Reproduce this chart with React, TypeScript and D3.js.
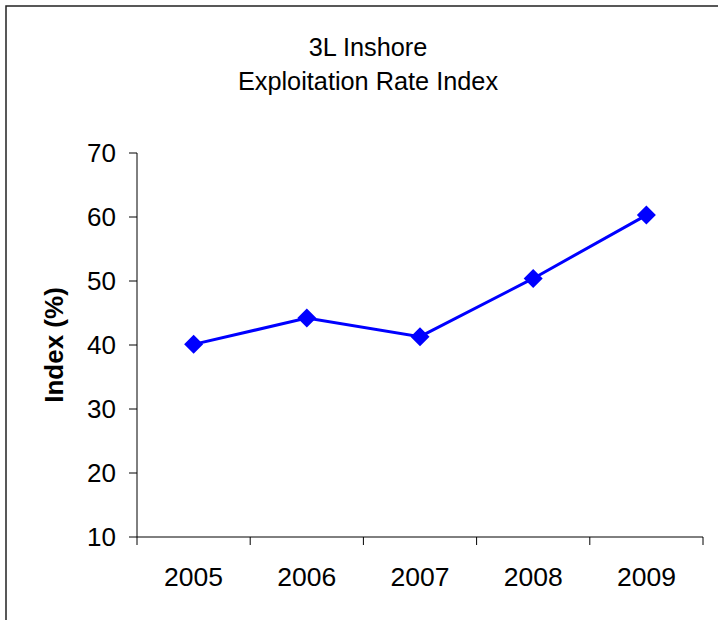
import React from "react";
import * as d3 from "d3";

const years = ["2005", "2006", "2007", "2008", "2009"];
const values = [40.1, 44.2, 41.3, 50.4, 60.3];
const yTicks = [10, 20, 30, 40, 50, 60, 70];
const titleLines = ["3L Inshore", "Exploitation Rate Index"];
const yTitle = "Index (%)";

export default function App() {
  const W = 718, H = 620;
  const left = 137, right = 703, top = 153, bottom = 537;
  const x = d3.scaleBand<string>().domain(years).range([left, right]);
  const y = d3.scaleLinear().domain([10, 70]).range([bottom, top]);
  const line = d3
    .line<number>()
    .x((_, i) => (x(years[i]) as number) + x.bandwidth() / 2)
    .y((d) => y(d));
  const font = "Arial, 'Liberation Sans', sans-serif";
  const tickEdges = years.map((yr) => x(yr) as number).concat([right]);
  const r = 9.5;
  return (
    <svg
      width={W}
      height={H}
      style={{ position: "absolute", left: 0, top: 0, background: "#fff" }}
      fontFamily={font}
    >
      <rect x={0} y={0} width={W} height={H} fill="#fff" />
      <rect x={6} y={6} width={W + 10} height={H + 10} fill="none" stroke="#222" strokeWidth={1.5} />
      {titleLines.map((t, i) => (
        <text key={t} x={368} y={56 + i * 34} textAnchor="middle" fontSize={25.3} fill="#000">
          {t}
        </text>
      ))}
      <text
        transform={`translate(63,${(top + bottom) / 2}) rotate(-90)`}
        textAnchor="middle"
        fontSize={26}
        fontWeight="bold"
        fill="#000"
      >
        {yTitle}
      </text>
      {/* y axis */}
      <line x1={left} x2={left} y1={top} y2={bottom} stroke="#000" strokeWidth={1} />
      {yTicks.map((t) => (
        <g key={t}>
          <line x1={left - 8} x2={left} y1={y(t)} y2={y(t)} stroke="#000" strokeWidth={1} />
          <text x={116} y={y(t)} dy="0.35em" textAnchor="end" fontSize={26} fill="#000">
            {t}
          </text>
        </g>
      ))}
      {/* x axis */}
      <line x1={left} x2={right} y1={bottom} y2={bottom} stroke="#000" strokeWidth={1} />
      {tickEdges.map((e, i) => (
        <line key={i} x1={e} x2={e} y1={bottom} y2={bottom + 8} stroke="#000" strokeWidth={1} />
      ))}
      {years.map((yr) => (
        <text
          key={yr}
          x={(x(yr) as number) + x.bandwidth() / 2}
          y={586}
          textAnchor="middle"
          fontSize={26.5}
          fill="#000"
        >
          {yr}
        </text>
      ))}
      <path d={line(values) || ""} fill="none" stroke="#0000FF" strokeWidth={3} />
      {values.map((v, i) => {
        const cx = (x(years[i]) as number) + x.bandwidth() / 2;
        const cy = y(v);
        return (
          <path
            key={i}
            d={`M${cx},${cy - r}L${cx + r},${cy}L${cx},${cy + r}L${cx - r},${cy}Z`}
            fill="#0000FF"
          />
        );
      })}
    </svg>
  );
}
